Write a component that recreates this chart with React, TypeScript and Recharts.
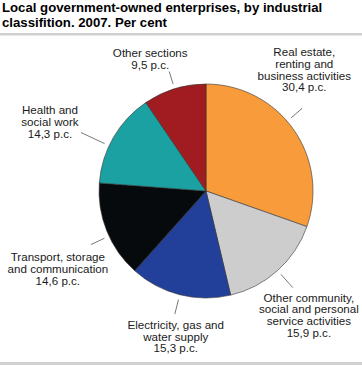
import React from 'react';
import { PieChart, Pie, Cell } from 'recharts';

const categories = [
  ['Real estate,', 'renting and', 'business activities'],
  ['Other community,', 'social and personal', 'service activities'],
  ['Electricity, gas and', 'water supply'],
  ['Transport, storage', 'and communication'],
  ['Health and', 'social work'],
  ['Other sections'],
];
const values = [30.4, 15.9, 15.3, 14.6, 14.3, 9.5];
const valueLabels = ['30,4 p.c.', '15,9 p.c.', '15,3 p.c.', '14,6 p.c.', '14,3 p.c.', '9,5 p.c.'];
const colors = ['#F89B3A', '#CDCDCD', '#22409A', '#070A0C', '#1BA1A1', '#A01C20'];

const titleLines = ['Local government-owned enterprises, by industrial', 'classifition. 2007. Per cent'];

// label layout: angle shift (deg), leader length, block centre offset from leader end
const labelLayout = [
  { shift: 5.4, len: 15, dx: 2, dy: -38 },
  { shift: 0, len: 18, dx: 16, dy: 28 },
  { shift: 0, len: 15, dx: 1, dy: 23 },
  { shift: 3, len: 15, dx: -33, dy: 25 },
  { shift: 5, len: 26, dx: -31, dy: -10 },
  { shift: 0, len: 13, dx: -19, dy: -12 },
];

const data = categories.map((c, i) => ({ name: c.join(' '), value: values[i] }));

const FONT = '"Liberation Sans", Arial, sans-serif';
const LINE_H = 11.7;
const RAD = Math.PI / 180;

const renderLabel = (props: any) => {
  const { cx, cy, midAngle, outerRadius, index } = props;
  const lay = labelLayout[index];
  const a = (midAngle + lay.shift) * RAD;
  const r0 = outerRadius + 5;
  const r1 = r0 + lay.len;
  const x0 = cx + r0 * Math.cos(a);
  const y0 = cy - r0 * Math.sin(a);
  const x1 = cx + r1 * Math.cos(a);
  const y1 = cy - r1 * Math.sin(a);
  const lines = [...categories[index], valueLabels[index]];
  const bx = x1 + lay.dx;
  const by = y1 + lay.dy;
  const top = by - (lines.length * LINE_H) / 2;
  return (
    <g key={`lab-${index}`}>
      <line x1={x0} y1={y0} x2={x1} y2={y1} stroke="#555" strokeWidth={0.8} />
      <text x={bx} y={top} textAnchor="middle" fontFamily={FONT} fontSize={11.6} fill="#1a1a1a">
        {lines.map((l, k) => (
          <tspan key={k} x={bx} y={top + LINE_H * k + LINE_H * 0.8}>{l}</tspan>
        ))}
      </text>
    </g>
  );
};

export default function App() {
  return (
    <div style={{ position: 'absolute', left: 0, top: 0, width: 362, height: 365, background: '#fff' }}>
      <svg width={362} height={365} style={{ position: 'absolute', left: 0, top: 0 }}>
        {titleLines.map((t, i) => (
          <text key={i} x={2} y={12 + i * 14.5} fontFamily={FONT} fontWeight="bold" fontSize={13.2} fill="#000">{t}</text>
        ))}
        <rect x={0} y={33} width={362} height={2.5} fill="#d0d0d0" />
        <rect x={0} y={362} width={362} height={3} fill="#d0d0d0" />
      </svg>
      <div style={{ position: 'absolute', left: 0, top: 0 }}>
        <PieChart width={362} height={365} margin={{ top: 0, right: 0, bottom: 0, left: 0 }}>
          <Pie
            data={data}
            dataKey="value"
            cx={206}
            cy={191}
            outerRadius={107}
            startAngle={90}
            endAngle={-270}
            stroke="#333"
            strokeWidth={0.6}
            isAnimationActive={false}
            label={renderLabel}
            labelLine={false}
          >
            {data.map((_, i) => (
              <Cell key={i} fill={colors[i]} />
            ))}
          </Pie>
        </PieChart>
      </div>
    </div>
  );
}
